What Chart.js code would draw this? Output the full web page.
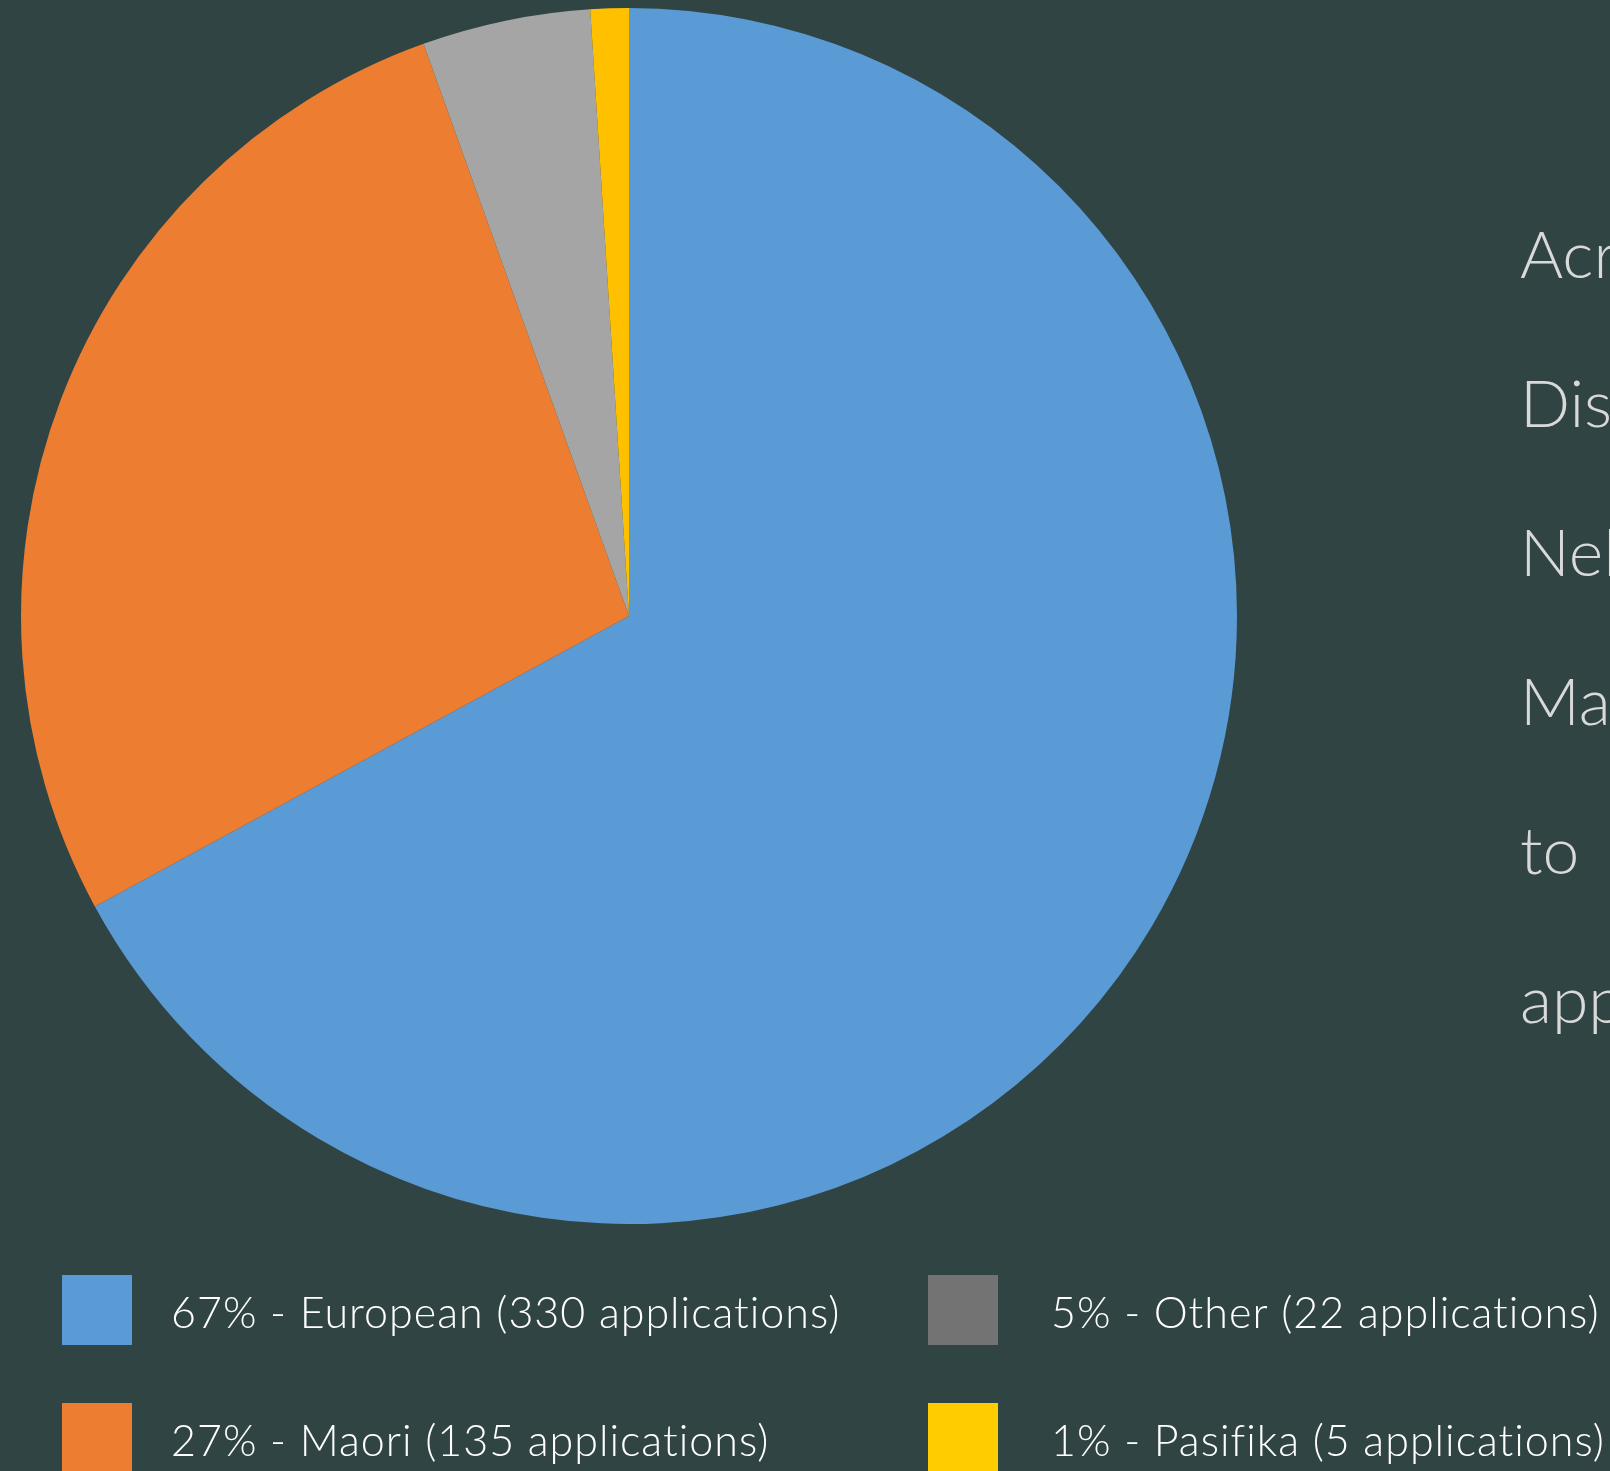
<!DOCTYPE html>
<html>
<head>
<meta charset="utf-8">
<script src="https://cdn.jsdelivr.net/npm/chart.js@4"></script>
<style>
  html, body { margin: 0; padding: 0; background: #304444; overflow: hidden; }
  canvas { display: block; }
</style>
</head>
<body>
<canvas id="pie" width="1610" height="1471"></canvas>
<script>
// Applications by ethnicity
const categories = ['European', 'Maori', 'Other', 'Pasifika'];
const applications = [330, 135, 22, 5];
const percentLabels = [67, 27, 5, 1];
const sliceColors = ['#5b9bd5', '#ed7d31', '#a5a5a5', '#ffc000'];
const legendColors = ['#5b9bd5', '#ed7d31', '#737373', '#ffcc00'];
const sideTextLines = ['Across', 'District', 'Nelson', 'Marlborough', 'to', 'applications'];

// Two-column legend: first column European / Maori, second column Other / Pasifika
const gridLegend = {
  id: 'gridLegend',
  afterDraw(chart) {
    const ctx = chart.ctx;
    ctx.save();
    const colBox = [62, 928];
    const colText = [171, 1051];
    const rowTop = [1275, 1403];
    const box = 70;
    ctx.font = '300 43px Lato';
    if ('letterSpacing' in ctx) ctx.letterSpacing = '1px';
    ctx.textBaseline = 'middle';
    categories.forEach((name, i) => {
      const col = Math.floor(i / 2);
      const row = i % 2;
      ctx.fillStyle = legendColors[i];
      ctx.fillRect(colBox[col], rowTop[row], box, box);
      ctx.fillStyle = '#ffffff';
      const label = percentLabels[i] + '% - ' + name + ' (' + applications[i] + ' applications)';
      ctx.fillText(label, colText[col], rowTop[row] + box / 2 + 4);
    });
    ctx.restore();
  }
};

// Paragraph running off the right edge of the page
const sideText = {
  id: 'sideText',
  afterDraw(chart) {
    const ctx = chart.ctx;
    ctx.save();
    ctx.font = '300 66px Lato';
    ctx.fillStyle = '#d9d9d9';
    ctx.textBaseline = 'alphabetic';
    sideTextLines.forEach((line, i) => {
      ctx.fillText(line, 1520, 278 + i * 149);
    });
    ctx.restore();
  }
};

new Chart(document.getElementById('pie'), {
  type: 'pie',
  data: {
    labels: categories,
    datasets: [{
      data: applications,
      backgroundColor: sliceColors,
      borderWidth: 0
    }]
  },
  options: {
    responsive: false,
    animation: false,
    layout: { padding: { left: 21, top: 8, right: 373, bottom: 247 } },
    plugins: {
      legend: { display: false },
      tooltip: { enabled: false }
    }
  },
  plugins: [gridLegend, sideText]
});
</script>
</body>
</html>
